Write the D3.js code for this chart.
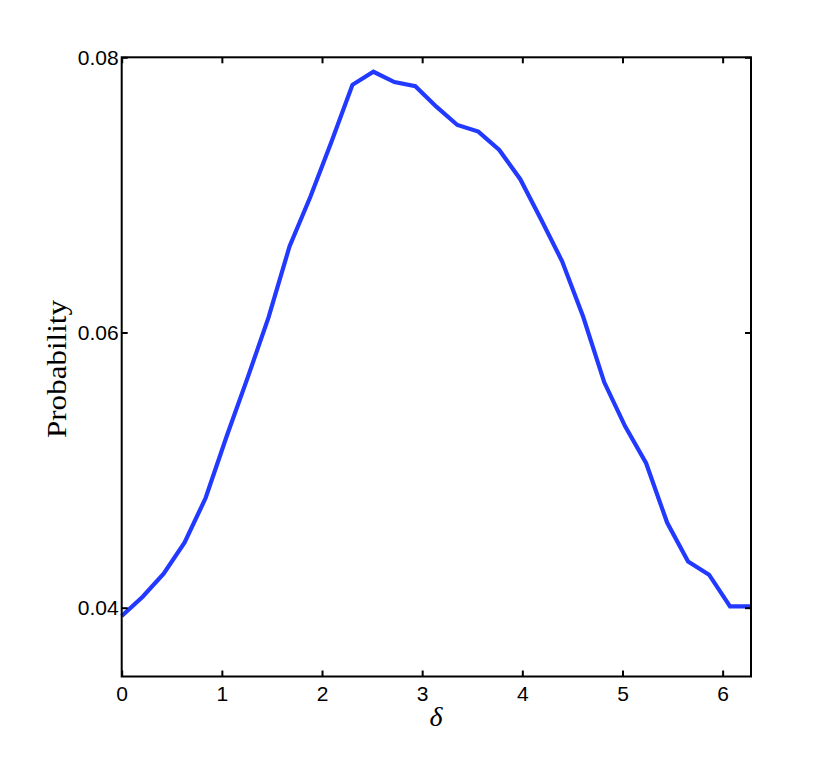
<!DOCTYPE html>
<html><head><meta charset="utf-8">
<script src="https://cdn.jsdelivr.net/npm/d3@7"></script>
<style>body{margin:0;background:#fff}</style>
</head><body>
<svg id="chart" width="830" height="761"></svg>
<script>
const xValues = d3.range(31).map(i => i * 2 * Math.PI / 30);
const probability = [0.0394, 0.0408, 0.04247, 0.04474, 0.04797, 0.05244, 0.0567, 0.0611, 0.06625, 0.06988,
  0.07387, 0.0780, 0.07895, 0.0782, 0.0779, 0.07641, 0.07508, 0.0746, 0.07327, 0.07114,
  0.0682, 0.06516, 0.06114, 0.05640, 0.05318, 0.0505, 0.04619, 0.04336, 0.0424, 0.0401, 0.0401];
const xTicks = [0, 1, 2, 3, 4, 5, 6];
const yTicks = [0.04, 0.06, 0.08];
const xLabel = "δ";
const yLabel = "Probability";

const svg = d3.select("#chart");
const L = 121.7, R = 751, T = 57.3, B = 676.5;
const x = d3.scaleLinear().domain([0, 2 * Math.PI]).range([L, R]);
const y = d3.scaleLinear().domain([0.035, 0.08]).range([B, T]);

const tickFont = "'Liberation Sans', Arial, sans-serif";

// data line
svg.append("path")
  .datum(xValues.map((v, i) => [v, probability[i]]))
  .attr("fill", "none")
  .attr("stroke", "#2239ff")
  .attr("stroke-width", 4.2)
  .attr("stroke-linejoin", "miter")
  .attr("d", d3.line().x(d => x(d[0])).y(d => y(d[1])));

// axes
const xb = svg.append("g").attr("transform", `translate(0,${B})`)
  .call(d3.axisBottom(x).tickValues(xTicks).tickFormat(d3.format("d")).tickSizeInner(-6).tickSizeOuter(0).tickPadding(10));
const xt = svg.append("g").attr("transform", `translate(0,${T})`)
  .call(d3.axisTop(x).tickValues(xTicks).tickFormat("").tickSizeInner(-6).tickSizeOuter(0));
const yl = svg.append("g").attr("transform", `translate(${L},0)`)
  .call(d3.axisLeft(y).tickValues(yTicks).tickFormat(d3.format(".2f")).tickSizeInner(-6).tickSizeOuter(0).tickPadding(3));
const yr = svg.append("g").attr("transform", `translate(${R},0)`)
  .call(d3.axisRight(y).tickValues(yTicks).tickFormat("").tickSizeInner(-6).tickSizeOuter(0));

[xb, xt, yl, yr].forEach(g => {
  g.attr("font-size", 21).attr("font-family", tickFont);
  g.select(".domain").remove();
  g.selectAll(".tick line").attr("stroke", "#000").attr("stroke-width", 2);
  g.selectAll("text").attr("fill", "#000").attr("font-size", 21).attr("font-family", tickFont);
});

// frame
svg.append("rect").attr("x", L).attr("y", T).attr("width", R - L).attr("height", B - T)
  .attr("fill", "none").attr("stroke", "#000").attr("stroke-width", 2);

// axis labels
svg.append("text").attr("x", 436).attr("y", 726)
  .attr("text-anchor", "middle")
  .attr("font-family", "'Liberation Serif', 'DejaVu Serif', serif").attr("font-style", "italic").attr("font-size", 28)
  .text(xLabel);
svg.append("text").attr("transform", `translate(66,369) rotate(-90)`)
  .attr("text-anchor", "middle")
  .attr("font-family", "'Liberation Serif', 'DejaVu Serif', serif").attr("font-size", 28)
  .attr("textLength", 138).attr("lengthAdjust", "spacingAndGlyphs")
  .text(yLabel);
</script>
</body></html>
